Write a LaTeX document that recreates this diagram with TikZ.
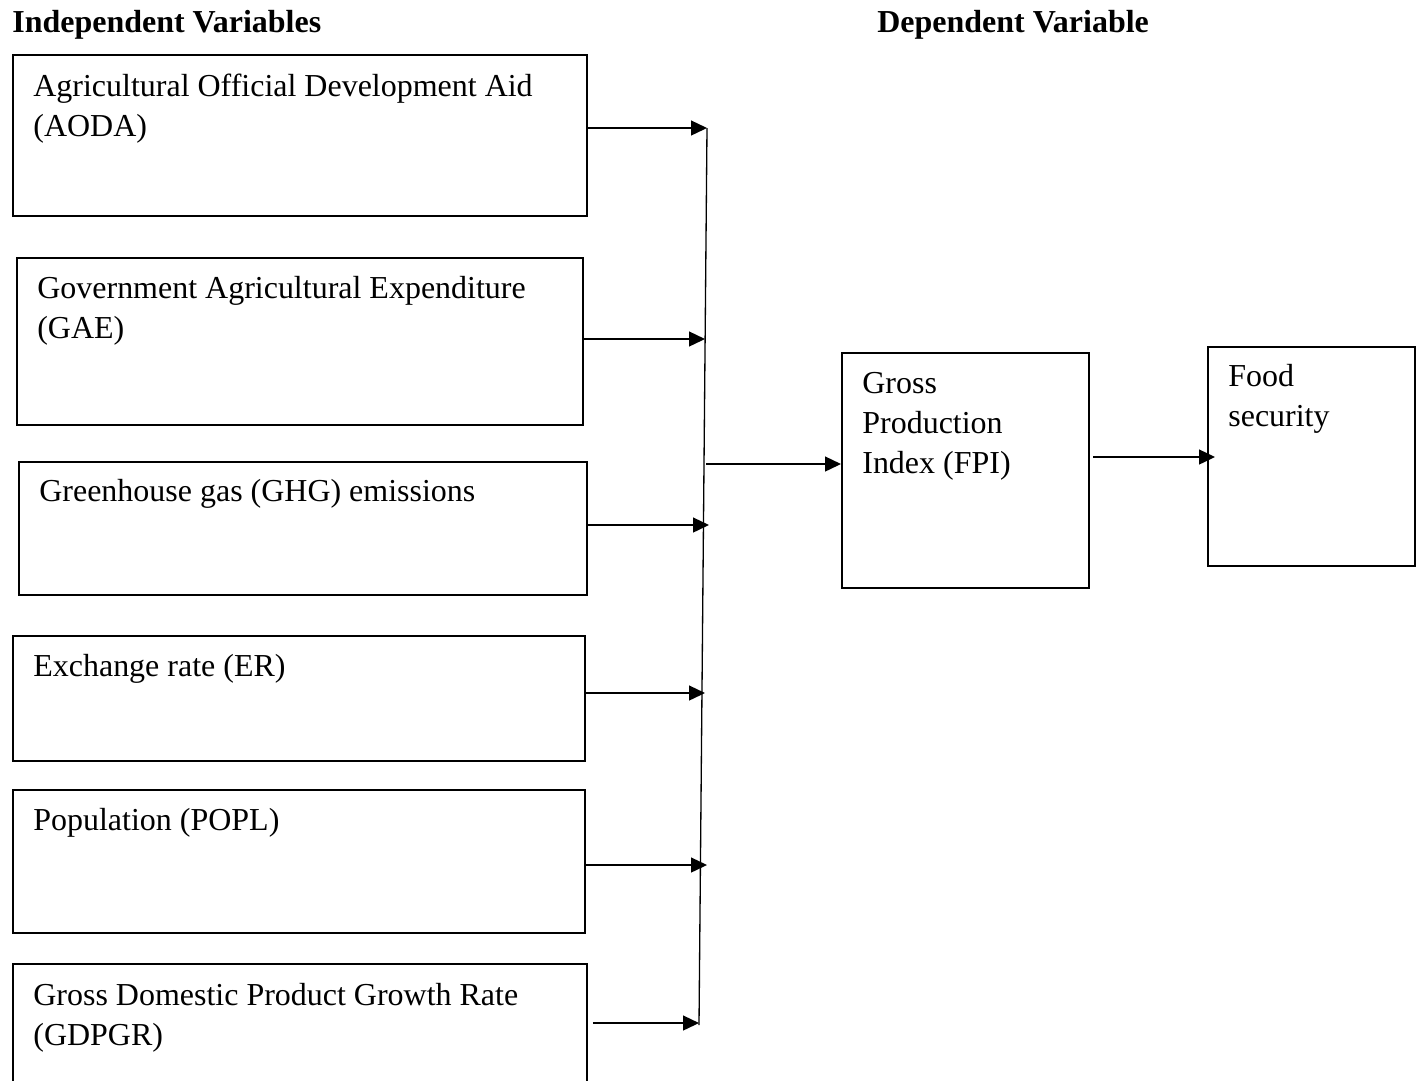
\documentclass[tikz,border=0pt]{standalone}
\usepackage{fontspec}
\setmainfont{Liberation Serif}
\usetikzlibrary{arrows.meta,calc}

\begin{document}
\begin{tikzpicture}[x=0.02cm,y=-0.02cm,
    varbox/.style 2 args={draw,line width=1.1pt,anchor=north west,inner sep=0pt,
      minimum width=#1*0.02cm,minimum height=#2*0.02cm},
    vartext/.style={anchor=base west,inner sep=0pt,align=left,
      font=\fontsize{18.2}{22.7}\selectfont},
    head/.style={anchor=base west,inner sep=0pt,
      font=\fontsize{18.2}{22.7}\selectfont\bfseries},
    link/.style={line width=0.75pt,-{Triangle[length=0.32cm,width=0.3cm]}}]
    \useasboundingbox (0,0) rectangle (1416,1080);
    \clip (0,0) rectangle (1416,1080);
    % headings
    \node[head] (indep) at (12,32) {Independent Variables};
    \node[head] (dep) at (877,32) {Dependent Variable};
    % independent variable boxes
    \node[varbox={574}{161}] (aoda) at (12,54) {};
    \node[varbox={566}{167}] (gae) at (16,257) {};
    \node[varbox={568}{133}] (ghg) at (18,461) {};
    \node[varbox={572}{125}] (er) at (12,635) {};
    \node[varbox={572}{143}] (popl) at (12,789) {};
    \node[varbox={574}{140}] (gdpgr) at (12,963) {};
    % base anchor sits on the last line, one line = 40
    \node[vartext] (aodatext) at ($(aoda.north west)+(21,82)$)
        {Agricultural Official Development Aid\\(AODA)};
    \node[vartext] (gaetext) at ($(gae.north west)+(21,81)$)
        {Government Agricultural Expenditure\\(GAE)};
    \node[vartext] (ghgtext) at ($(ghg.north west)+(21,40)$)
        {Greenhouse gas (GHG) emissions};
    \node[vartext] (ertext) at ($(er.north west)+(21,41)$)
        {Exchange rate (ER)};
    \node[vartext] (popltext) at ($(popl.north west)+(21,41)$)
        {Population (POPL)};
    \node[vartext] (gdpgrtext) at ($(gdpgr.north west)+(21,82)$)
        {Gross Domestic Product Growth Rate\\(GDPGR)};
    % dependent variable boxes
    \node[varbox={247}{235}] (fpi) at (841,352) {};
    \node[varbox={207}{219}] (food) at (1207,346) {};
    \node[vartext] (fpitext) at ($(fpi.north west)+(21,121)$)
        {Gross\\Production\\Index (FPI)};
    \node[vartext] (foodtext) at ($(food.north west)+(21,80)$)
        {Food\\security};
    % trunk line
    \coordinate (jaoda) at (707,128);
    \coordinate (jgae) at (705,339);
    \coordinate (jghg) at (709,525);
    \coordinate (jer) at (705,693);
    \coordinate (jpopl) at (707,865);
    \coordinate (jgdpgr) at (699,1023);
    \coordinate (jfpi) at (706,464);
    \coordinate (trunkend) at (699,1025);
    \draw[line width=0.75pt] (jaoda) -- (trunkend);
    \foreach \b in {aoda,gae,ghg,er,popl}
      \draw[link] (\b.east |- j\b) -- (j\b);
    \draw[link] ($(gdpgr.east |- jgdpgr)+(5,0)$) -- (jgdpgr);
    \draw[link] (jfpi) -- (fpi.west |- jfpi);
    \coordinate (jfood) at (1093,457);
    \draw[link] (jfood) -- ($(food.west |- jfood)+(8,0)$);
    \end{tikzpicture}
\end{document}
